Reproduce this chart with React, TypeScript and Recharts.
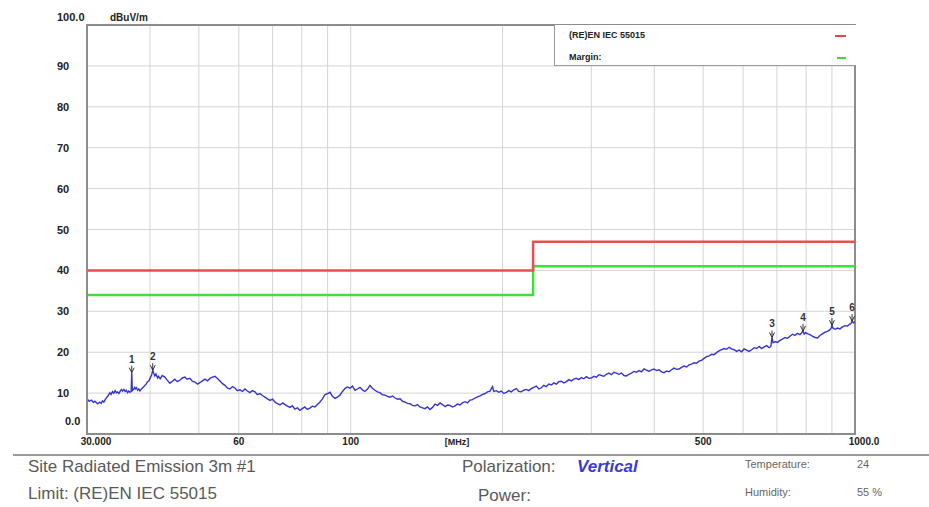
import React from 'react';
import {
  ComposedChart,
  Line,
  Scatter,
  XAxis,
  YAxis,
  CartesianGrid,
  Legend,
  ReferenceArea,
} from 'recharts';

// measured trace: [frequency MHz, level dBuV/m]
const trace: [number, number][] = [
  [30.0, 8.6], [30.3, 8.0], [30.6, 8.3], [30.9, 7.7], [31.1, 8.0], [31.5, 7.4], [31.8, 7.8], [32.0, 7.5],
  [32.2, 8.1], [32.4, 7.8], [32.6, 8.4], [32.8, 8.9], [33.0, 9.3], [33.2, 9.8], [33.3, 10.1], [33.5, 9.7],
  [33.7, 10.4], [33.9, 10.0], [34.1, 10.6], [34.3, 10.1], [34.5, 10.3], [34.7, 9.9], [34.9, 10.4], [35.1, 10.9],
  [35.3, 10.5], [35.5, 10.9], [35.7, 10.4], [35.9, 10.7], [36.1, 10.1], [36.3, 10.5], [36.5, 10.2], [36.7, 10.4],
  [36.8, 15.0], [36.9, 10.6], [37.1, 10.9], [37.3, 11.4], [37.4, 11.0], [37.6, 11.3], [37.8, 10.7], [38.0, 11.0],
  [38.2, 10.5], [38.4, 10.9], [38.6, 11.2], [38.9, 11.6], [39.1, 11.9], [39.3, 12.2], [39.5, 12.7], [39.8, 13.0],
  [40.0, 13.6], [40.3, 14.4], [40.5, 15.6], [40.7, 14.8], [40.9, 14.2], [41.1, 14.7], [41.4, 13.7], [41.6, 14.1],
  [41.9, 13.5], [42.3, 14.3], [42.8, 13.9], [43.3, 13.1], [43.8, 12.4], [44.3, 12.9], [44.8, 13.4], [45.3, 12.8],
  [45.9, 13.2], [46.4, 13.7], [46.9, 13.9], [47.4, 13.4], [48.0, 13.6], [48.5, 12.9], [49.1, 12.7], [49.7, 12.2],
  [50.3, 12.6], [50.8, 13.0], [51.4, 13.4], [52.0, 13.0], [52.6, 13.6], [53.2, 13.9], [53.8, 14.1], [54.5, 13.5],
  [55.1, 12.9], [55.7, 12.3], [56.3, 11.9], [57.0, 11.2], [57.6, 11.0], [58.3, 11.6], [59.0, 11.2], [59.6, 10.6],
  [60.3, 10.8], [61.0, 10.4], [61.7, 11.0], [62.4, 10.5], [63.1, 10.1], [63.8, 10.6], [64.6, 10.3], [65.3, 9.6],
  [66.1, 9.9], [66.8, 9.4], [67.6, 9.0], [68.4, 8.6], [69.2, 8.2], [70.0, 8.5], [70.8, 7.8], [71.6, 7.4],
  [72.4, 7.1], [73.3, 7.6], [74.1, 7.2], [74.9, 6.8], [75.8, 6.5], [76.6, 6.9], [77.5, 6.1], [78.4, 6.4],
  [79.3, 5.8], [80.2, 6.2], [81.1, 6.6], [82.0, 6.0], [83.0, 6.3], [83.9, 6.8], [84.9, 6.6], [85.9, 7.2],
  [86.9, 7.8], [87.9, 8.6], [88.9, 9.6], [90.0, 9.9], [91.0, 10.2], [92.0, 9.2], [93.1, 8.7], [94.1, 9.0],
  [95.2, 9.5], [96.3, 10.4], [97.4, 11.1], [98.5, 11.5], [99.7, 11.2], [100.8, 11.7], [102.0, 10.7], [103.1, 11.0],
  [104.3, 11.4], [105.5, 10.8], [106.7, 10.4], [108.0, 11.0], [109.2, 11.9], [110.4, 11.2], [111.7, 10.7], [113.0, 10.3],
  [114.3, 10.1], [115.6, 9.6], [117.0, 9.5], [118.3, 9.2], [119.7, 9.0], [121.1, 9.3], [122.5, 8.8], [123.9, 8.5],
  [125.3, 8.6], [126.7, 8.0], [128.2, 7.8], [129.6, 7.5], [131.1, 7.4], [132.6, 7.0], [134.1, 6.9], [135.6, 7.2],
  [137.2, 6.6], [138.8, 6.4], [140.4, 6.2], [142.0, 6.6], [143.6, 6.0], [145.3, 6.5], [147.0, 7.3], [148.7, 7.0],
  [150.4, 7.6], [152.1, 7.2], [153.9, 6.7], [155.6, 7.1], [157.4, 7.0], [159.2, 6.6], [161.0, 6.9], [162.8, 7.3],
  [164.7, 7.1], [166.6, 7.6], [168.5, 7.9], [170.4, 7.6], [172.4, 8.3], [174.4, 8.4], [176.4, 8.8], [178.4, 9.1],
  [180.5, 9.3], [182.6, 9.7], [184.7, 9.9], [186.8, 10.3], [188.9, 10.5], [191.1, 11.6], [192.2, 10.4], [194.4, 10.6],
  [196.6, 10.2], [198.9, 10.5], [201.2, 9.9], [203.5, 10.2], [205.8, 10.6], [208.2, 10.3], [210.6, 10.8], [213.0, 11.1],
  [215.4, 10.4], [217.9, 10.3], [220.4, 10.7], [223.0, 10.9], [225.5, 10.6], [228.1, 11.1], [230.7, 11.4], [233.4, 11.7],
  [236.1, 11.0], [238.8, 11.3], [241.5, 11.9], [244.3, 11.6], [247.1, 12.2], [250.0, 12.0], [252.8, 12.5], [255.7, 12.2],
  [258.7, 12.8], [261.6, 12.9], [264.7, 12.5], [267.7, 12.8], [270.8, 13.3], [273.9, 13.0], [277.0, 13.4], [280.2, 13.6],
  [283.4, 13.3], [286.7, 13.8], [290.0, 13.5], [293.3, 14.0], [296.7, 13.6], [300.1, 13.7], [303.5, 14.1], [307.0, 13.9],
  [310.6, 14.5], [314.1, 14.3], [317.8, 14.1], [321.4, 14.6], [325.1, 14.9], [328.9, 14.5], [332.6, 15.1], [336.5, 14.9],
  [340.3, 14.6], [344.3, 14.9], [348.2, 14.3], [352.2, 14.2], [356.3, 14.6], [360.4, 14.9], [364.5, 15.3], [368.7, 15.1],
  [373.0, 15.5], [377.3, 15.2], [381.6, 15.9], [386.0, 15.6], [390.4, 15.3], [394.9, 15.7], [399.4, 15.9], [404.0, 15.5],
  [408.7, 15.7], [413.4, 15.2], [418.1, 15.0], [422.9, 15.4], [427.8, 15.2], [432.7, 15.7], [437.7, 16.1], [442.7, 15.8],
  [447.8, 15.9], [453.0, 16.3], [458.2, 16.6], [463.4, 16.4], [468.8, 16.9], [474.1, 17.1], [479.6, 17.4], [485.1, 17.3],
  [490.7, 17.8], [496.3, 18.0], [502.0, 18.5], [507.8, 18.9], [513.6, 19.1], [519.5, 19.5], [525.5, 19.4], [531.5, 19.9],
  [537.6, 20.3], [543.8, 20.6], [550.1, 20.9], [556.4, 20.7], [562.8, 21.2], [569.3, 20.8], [575.8, 20.6], [582.4, 20.2],
  [589.1, 20.5], [595.9, 20.1], [602.7, 20.8], [609.7, 20.5], [616.7, 20.2], [623.8, 20.6], [631.0, 21.1], [638.2, 20.9],
  [645.6, 21.4], [653.0, 20.9], [660.5, 21.3], [668.1, 21.6], [675.8, 21.1], [681.0, 21.4], [684.6, 23.6], [688.0, 22.3],
  [695.0, 22.6], [702.0, 22.4], [710.0, 22.9], [718.0, 23.2], [726.5, 23.6], [734.6, 23.4], [743.0, 23.9], [751.5, 24.4],
  [760.2, 24.1], [769.0, 24.6], [777.9, 24.3], [783.0, 24.7], [788.7, 25.2], [793.0, 24.4], [798.0, 24.8], [806.0, 24.5],
  [814.2, 24.3], [823.0, 23.9], [833.1, 23.6], [842.5, 23.5], [852.3, 24.1], [862.0, 24.5], [872.0, 24.9], [882.0, 25.1],
  [892.2, 25.5], [897.0, 25.9], [900.0, 26.6], [904.0, 25.9], [912.7, 25.6], [923.0, 25.9], [933.6, 25.7], [944.3, 26.2],
  [955.3, 26.5], [966.2, 26.4], [977.4, 26.9], [982.0, 27.0], [986.7, 27.6], [993.0, 27.2], [1000.0, 27.4],
];

const limitFreqs = [30, 230, 1000];
const limitLevels = [40, 47, 47];
const marginLevels = [34, 41, 41];

const peakFreqs = [36.8, 40.5, 684.6, 788.7, 900.0, 986.7];
const peakLevels = [15.0, 15.6, 23.6, 25.2, 26.6, 27.6];
const peakNames = ['1', '2', '3', '4', '5', '6'];

const xTicks = [30, 40, 50, 60, 70, 80, 90, 100, 200, 300, 400, 500, 600, 700, 800, 900, 1000];
const xTickLabels: Record<number, string> = { 30: '30.000', 60: '60', 100: '100', 500: '500', 1000: '1000.0' };
const yTicks = [0, 10, 20, 30, 40, 50, 60, 70, 80, 90, 100];

const traceData = trace.map(([f, v]) => ({ f, v }));
const limitData = limitFreqs.map((f, i) => ({ f, v: limitLevels[i] }));
const marginData = limitFreqs.map((f, i) => ({ f, v: marginLevels[i] }));
const peakData = peakFreqs.map((f, i) => ({ f, v: peakLevels[i], name: peakNames[i] }));

const FONT = '"Liberation Sans", Arial, sans-serif';

const YTick = (props: any) => {
  const { x, y, payload } = props;
  const v = payload.value;
  if (v === 100) {
    return (
      <g>
        <text x={x - 30} y={y - 4} textAnchor="start" fontSize={11} fontWeight="bold" fill="#222" fontFamily={FONT}>
          100.0
        </text>
        <text x={x + 23} y={y - 4} textAnchor="start" fontSize={10} fontWeight="bold" fill="#222" fontFamily={FONT}>
          dBuV/m
        </text>
      </g>
    );
  }
  const label = v === 0 ? '0.0' : String(v);
  const dx = v === 0 ? -22 : -30;
  const dy = v === 0 ? -9 : 4;
  return (
    <text x={x + dx} y={y + dy} textAnchor="start" fontSize={11} fontWeight="bold" fill="#222" fontFamily={FONT}>
      {label}
    </text>
  );
};

const XTick = (props: any) => {
  const { x, y, payload } = props;
  const label = xTickLabels[payload.value];
  if (!label) return null;
  const dx = payload.value === 30 || payload.value === 1000 ? 9 : 0;
  return (
    <text x={x + dx} y={y + 11} textAnchor="middle" fontSize={10} fontWeight="bold" fill="#222" fontFamily={FONT}>
      {label}
    </text>
  );
};

const PeakMarker = (props: any) => {
  const { cx, cy, payload } = props;
  return (
    <g>
      <line x1={cx} y1={cy} x2={cx} y2={cy - 7} stroke="#333" strokeWidth={1} />
      <path d={`M${cx - 2.5},${cy - 5} L${cx},${cy} L${cx + 2.5},${cy - 5}`} fill="none" stroke="#333" strokeWidth={1} />
      <text x={cx} y={cy - 10} textAnchor="middle" fontSize={10} fontWeight="bold" fill="#333" fontFamily={FONT}>
        {payload.name}
      </text>
    </g>
  );
};

const LegendBox = () => (
  <div
    style={{
      width: 301,
      height: 40,
      background: '#fff',
      borderLeft: '1px solid #999',
      borderBottom: '1px solid #999',
      position: 'relative',
      fontFamily: FONT,
      fontSize: 9,
      fontWeight: 'bold',
      color: '#222',
    }}
  >
    <div style={{ position: 'absolute', left: 14, top: 5 }}>(RE)EN IEC 55015</div>
    <div style={{ position: 'absolute', left: 14, top: 27 }}>Margin:</div>
    <div style={{ position: 'absolute', left: 280, top: 10, width: 11, height: 2, background: '#e04848' }} />
    <div style={{ position: 'absolute', left: 282, top: 32, width: 9, height: 2, background: '#40d840' }} />
  </div>
);

const footText: React.CSSProperties = {
  position: 'absolute',
  fontFamily: FONT,
  fontSize: 17,
  color: '#5a5a5a',
  whiteSpace: 'nowrap',
  lineHeight: 1,
};

const smallText: React.CSSProperties = { ...footText, fontSize: 11, color: '#666' };

export default function App() {
  return (
    <div style={{ position: 'absolute', left: 0, top: 0, width: 929, height: 507, background: '#fff', overflow: 'hidden' }}>
      <ComposedChart width={929} height={455} margin={{ top: 25, right: 74, bottom: 0, left: 27 }}>
        <CartesianGrid stroke="#d4d4d4" strokeWidth={1} />
        <XAxis
          dataKey="f"
          type="number"
          scale="log"
          domain={[30, 1000]}
          ticks={xTicks}
          allowDataOverflow
          height={21}
          tickSize={0}
          tickMargin={0}
          tickLine={false}
          interval={0}
          axisLine={{ stroke: '#8c8c8c', strokeWidth: 2 }}
          tick={<XTick />}
          label={{
            content: (p: any) => (
              <text
                x={p.viewBox.x + 370}
                y={p.viewBox.y + 11}
                textAnchor="middle"
                fontSize={9}
                fontWeight="bold"
                fill="#222"
                fontFamily={FONT}
              >
                [MHz]
              </text>
            ),
          }}
        />
        <YAxis
          dataKey="v"
          type="number"
          domain={[0, 100]}
          ticks={yTicks}
          width={60}
          tickSize={0}
          tickMargin={0}
          tickLine={false}
          interval={0}
          axisLine={{ stroke: '#8c8c8c', strokeWidth: 2 }}
          tick={<YTick />}
        />
        <ReferenceArea x1={30} x2={1000} y1={0} y2={100} fill="none" stroke="#8c8c8c" strokeWidth={2} />
        <Legend
          layout="vertical"
          align="center"
          verticalAlign="middle"
          wrapperStyle={{ top: 25, left: 554, width: 301, height: 40 }}
          content={<LegendBox />}
        />
        <Line
          data={marginData}
          dataKey="v"
          type="stepAfter"
          stroke="#3ee03e"
          strokeWidth={2.5}
          dot={false}
          isAnimationActive={false}
        />
        <Line
          data={limitData}
          dataKey="v"
          type="stepAfter"
          stroke="#e85050"
          strokeWidth={2.5}
          dot={false}
          isAnimationActive={false}
        />
        <Line
          data={traceData}
          dataKey="v"
          type="linear"
          stroke="#3434d4"
          strokeWidth={1.4}
          dot={false}
          isAnimationActive={false}
        />
        <Scatter data={peakData} dataKey="v" shape={<PeakMarker />} isAnimationActive={false} />
      </ComposedChart>

      <div style={{ position: 'absolute', left: 13, top: 454, width: 916, height: 2, background: '#9a9a9a' }} />
      <div style={{ ...footText, left: 28, top: 458 }}>Site Radiated Emission 3m #1</div>
      <div style={{ ...footText, left: 28, top: 485 }}>Limit: (RE)EN IEC 55015</div>
      <div style={{ ...footText, left: 462, top: 458 }}>Polarization:</div>
      <div style={{ ...footText, left: 577, top: 458, color: '#3a3ad6', fontWeight: 'bold', fontStyle: 'italic' }}>Vertical</div>
      <div style={{ ...footText, left: 478, top: 487 }}>Power:</div>
      <div style={{ ...smallText, left: 745, top: 459 }}>Temperature:</div>
      <div style={{ ...smallText, left: 857, top: 459 }}>24</div>
      <div style={{ ...smallText, left: 745, top: 487 }}>Humidity:</div>
      <div style={{ ...smallText, left: 857, top: 487 }}>55 %</div>
    </div>
  );
}
